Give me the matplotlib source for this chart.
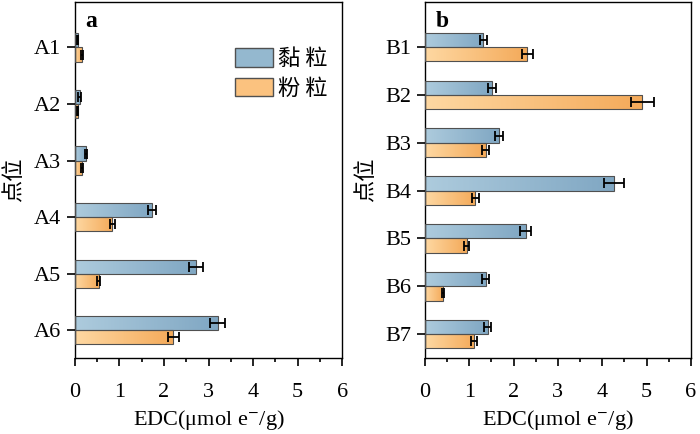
import numpy as np
import matplotlib
matplotlib.use("Agg")
import matplotlib.pyplot as plt
from matplotlib.colors import LinearSegmentedColormap
from matplotlib.patches import Patch

plt.rcParams["font.family"] = ["Liberation Serif", "Noto Sans CJK SC"]
plt.rcParams["mathtext.fontset"] = "stix"

# datos
sitios_a = ["A1", "A2", "A3", "A4", "A5", "A6"]
arcilla_a = [0.06, 0.11, 0.25, 1.72, 2.72, 3.20]
arcilla_a_err = [0.02, 0.03, 0.03, 0.09, 0.15, 0.17]
limo_a = [0.16, 0.06, 0.16, 0.84, 0.53, 2.21]
limo_a_err = [0.02, 0.02, 0.02, 0.05, 0.03, 0.13]

sitios_b = ["B1", "B2", "B3", "B4", "B5", "B6", "B7"]
arcilla_b = [1.32, 1.51, 1.67, 4.27, 2.27, 1.37, 1.42]
arcilla_b_err = [0.08, 0.09, 0.10, 0.22, 0.13, 0.08, 0.08]
limo_b = [2.31, 4.90, 1.37, 1.14, 0.94, 0.40, 1.11]
limo_b_err = [0.13, 0.26, 0.075, 0.07, 0.06, 0.02, 0.07]

series_nombres = ["黏 粒", "粉 粒"]
cmap_azul = LinearSegmentedColormap.from_list("azul", ["#adcbdd", "#80a7c3"])
cmap_naranja = LinearSegmentedColormap.from_list("naranja", ["#fed8a2", "#f4aa5a"])


def barra_degradada(ax, y, ancho, alto, cmap):
    # barra con degradado horizontal de claro a oscuro
    b = ax.barh(y, ancho, height=alto, align="edge", facecolor="none",
                edgecolor="#505050", linewidth=0.8, zorder=3)[0]
    grad = np.linspace(0, 1, 64).reshape(1, -1)
    im = ax.imshow(grad, cmap=cmap, aspect="auto", zorder=2,
                   extent=(0, ancho, y + alto, y), interpolation="bilinear")
    im.set_clip_path(b)
    return b


def panel(ax, sitios, v1, e1, v2, e2, alto, ylim, letra):
    pos = np.arange(1, len(sitios) + 1)
    for p, a, l in zip(pos, v1, v2):
        barra_degradada(ax, p - alto, a, alto, cmap_azul)
        barra_degradada(ax, p, l, alto, cmap_naranja)
    ax.errorbar(v1, pos - alto / 2, xerr=e1, fmt="none", ecolor="black",
                elinewidth=1.3, capsize=3.5, capthick=1.3, zorder=4)
    ax.errorbar(v2, pos + alto / 2, xerr=e2, fmt="none", ecolor="black",
                elinewidth=1.3, capsize=3.5, capthick=1.3, zorder=4)
    ax.set_xlim(0, 6)
    ax.set_ylim(*ylim)
    ax.set_yticks(pos)
    ax.set_yticklabels(sitios, fontsize=16)
    ax.set_xticks(range(7))
    ax.set_xticks(np.arange(0.5, 6, 1), minor=True)
    ax.tick_params(axis="x", labelsize=16, length=6, width=1.2, pad=12)
    ax.tick_params(axis="x", which="minor", length=3, width=1.2)
    ax.tick_params(axis="y", length=6, width=1.2, pad=4)
    for s in ax.spines.values():
        s.set_linewidth(1.0)
    ax.set_xlabel(r"EDC(μmol e$^{-}$/g)", fontsize=16, labelpad=4)
    ax.set_ylabel("点位", fontsize=16, family=["Noto Sans CJK SC"], labelpad=6)
    ax.text(0.04, 0.975, letra, transform=ax.transAxes, fontsize=17,
            fontweight="bold", va="top", ha="left")


fig = plt.figure(figsize=(7, 4.34), dpi=100)
ax1 = fig.add_axes([0.107, 0.175, 0.382, 0.82])
ax2 = fig.add_axes([0.607, 0.175, 0.380, 0.82])

panel(ax1, sitios_a, arcilla_a, arcilla_a_err, limo_a, limo_a_err,
      0.25, (6.49, 0.2), "a")
panel(ax2, sitios_b, arcilla_b, arcilla_b_err, limo_b, limo_b_err,
      0.3, (7.5, 0.06), "b")

# leyenda
manejadores = [Patch(facecolor="#94b8cf", edgecolor="#505050"),
               Patch(facecolor="#fbc27f", edgecolor="#505050")]
ax1.legend(manejadores, series_nombres, loc="upper right",
           bbox_to_anchor=(1.02, 0.93), frameon=False,
           prop={"family": ["Noto Sans CJK SC"], "size": 16},
           handlelength=1.7, handleheight=0.9, handletextpad=0.25,
           labelspacing=0.3)

fig.savefig("out.png", dpi=100)
